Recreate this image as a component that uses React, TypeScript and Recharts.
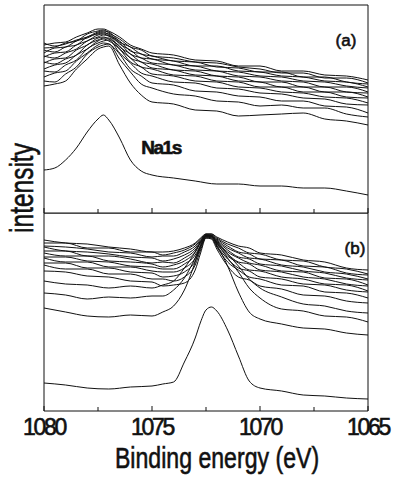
import { LineChart, Line, XAxis, YAxis } from 'recharts'

// binding energy grids (eV) for the two panels
const energyA = [1080, 1079.5, 1079, 1078.5, 1078, 1077.5, 1077.25, 1077, 1076.5, 1076, 1075.5, 1075, 1074, 1073, 1072, 1071, 1070, 1069, 1068, 1067, 1066, 1065]
const energyB = [1080, 1079, 1078, 1077, 1076, 1075, 1074.5, 1074, 1073.5, 1073, 1072.75, 1072.5, 1072.25, 1072, 1071.5, 1071, 1070.5, 1070, 1069, 1068, 1067, 1066, 1065]

// panel (a): stacked spectra, intensity in a.u.
const spectraA = [
  [168, 170, 171, 176, 180, 184, 184, 182, 176, 168, 164, 160, 158, 153, 152, 147, 147, 142, 142, 138, 137, 133],
  [165, 166, 170, 172, 179, 182, 183, 180, 174, 166, 163, 157, 155, 151, 150, 146, 144, 140, 140, 135, 135, 130],
  [170, 167, 169, 173, 176, 181, 182, 181, 171, 166, 159, 157, 152, 151, 146, 145, 141, 141, 136, 136, 131, 129],
  [160, 165, 166, 172, 175, 180, 181, 178, 172, 162, 159, 154, 152, 147, 147, 142, 141, 137, 136, 132, 131, 126],
  [163, 161, 166, 168, 176, 179, 180, 179, 169, 163, 155, 154, 148, 147, 142, 141, 137, 136, 132, 131, 127, 125],
  [156, 160, 161, 168, 172, 178, 179, 177, 170, 159, 155, 150, 148, 143, 142, 137, 136, 132, 131, 126, 126, 121],
  [157, 155, 160, 164, 172, 176, 178, 177, 166, 159, 151, 149, 143, 142, 137, 136, 131, 131, 126, 126, 121, 120],
  [150, 154, 155, 163, 168, 175, 176, 174, 167, 155, 151, 145, 143, 138, 137, 132, 131, 126, 126, 121, 121, 116],
  [151, 149, 154, 158, 168, 173, 175, 175, 164, 155, 146, 144, 138, 137, 132, 131, 126, 126, 121, 121, 116, 115],
  [144, 148, 150, 158, 164, 172, 174, 172, 164, 151, 146, 139, 137, 132, 131, 126, 125, 121, 120, 116, 115, 110],
  [142, 141, 148, 153, 164, 170, 172, 173, 160, 150, 140, 137, 131, 130, 125, 124, 120, 119, 115, 114, 109, 108],
  [136, 140, 142, 152, 160, 168, 170, 169, 159, 144, 137, 130, 128, 122, 121, 117, 116, 112, 112, 107, 106, 100],
  [132, 131, 139, 146, 159, 166, 168, 169, 154, 141, 129, 125, 119, 117, 112, 111, 107, 108, 105, 105, 99, 96],
  [127, 129, 132, 144, 154, 164, 166, 167, 148, 130, 118, 111, 109, 103, 102, 97, 98, 99, 100, 94, 92, 88],
]
const naA = [43, 45, 53, 65, 81, 94, 98, 93, 75, 53, 42, 38, 35, 32, 29, 29, 27, 27, 25, 25, 22, 18]

// panel (b)
const spectraB = [
  [171, 168, 167, 164, 162, 159, 159, 160, 163, 168, 173, 177, 177, 174, 169, 165, 163, 158, 156, 151, 149, 143, 141],
  [168, 168, 163, 163, 159, 159, 156, 158, 161, 167, 172, 177, 177, 173, 167, 163, 158, 157, 151, 150, 144, 142, 137],
  [165, 164, 162, 159, 158, 154, 155, 155, 159, 165, 171, 176, 176, 172, 165, 159, 157, 152, 151, 145, 144, 138, 136],
  [164, 160, 159, 157, 154, 153, 150, 152, 156, 163, 170, 176, 176, 171, 163, 158, 153, 152, 146, 144, 139, 137, 132],
  [160, 160, 155, 155, 152, 148, 149, 148, 153, 161, 169, 176, 175, 170, 161, 154, 152, 147, 145, 140, 138, 133, 131],
  [158, 155, 155, 150, 149, 147, 144, 146, 150, 159, 168, 175, 175, 169, 159, 153, 148, 146, 140, 139, 133, 132, 126],
  [154, 154, 150, 149, 145, 144, 142, 142, 147, 156, 166, 175, 174, 168, 157, 149, 147, 141, 139, 134, 132, 127, 125],
  [153, 149, 149, 144, 144, 140, 139, 139, 143, 153, 165, 174, 174, 167, 155, 148, 141, 140, 134, 132, 127, 126, 120],
  [148, 148, 143, 143, 139, 138, 134, 135, 139, 150, 163, 174, 173, 165, 152, 143, 140, 134, 132, 127, 126, 121, 119],
  [146, 142, 142, 137, 137, 132, 132, 130, 134, 146, 161, 173, 173, 164, 149, 141, 134, 132, 126, 125, 119, 118, 113],
  [140, 139, 135, 134, 130, 129, 125, 126, 128, 141, 158, 173, 172, 162, 145, 134, 131, 125, 122, 116, 115, 110, 108],
  [130, 127, 126, 123, 125, 123, 126, 130, 143, 159, 169, 176, 175, 169, 157, 145, 132, 123, 114, 107, 105, 100, 98],
  [118, 116, 112, 114, 113, 115, 115, 121, 133, 153, 165, 175, 175, 168, 153, 139, 123, 113, 102, 100, 95, 94, 89],
  [103, 99, 95, 94, 96, 95, 99, 105, 121, 149, 165, 175, 175, 166, 145, 119, 99, 92, 87, 83, 82, 78, 76],
]
const naB = [28, 26, 23, 22, 24, 25, 27, 29, 49, 73, 89, 101, 104, 100, 81, 55, 30, 23, 20, 16, 15, 13, 12]

const tickEnergies = [1080, 1077.5, 1075, 1072.5, 1070, 1067.5, 1065]

const buildRows = (energies: number[], spectra: number[][], base: number[]) =>
  energies.map((e, i) => {
    const row: Record<string, number> = { e }
    spectra.forEach((s, k) => {
      row['s' + k] = s[i]
    })
    row.base = base[i]
    return row
  })

const rowsA = buildRows(energyA, spectraA, naA)
const rowsB = buildRows(energyB, spectraB, naB)

const ink = '#111'
const font = '"Liberation Sans", Arial, sans-serif'

const makeTick = (withLabel: boolean) => (props: any) => {
  const { x, y, payload } = props
  const major = payload.value % 5 === 0
  return (
    <g>
      <line x1={x} x2={x} y1={y} y2={y - (major ? 5 : 4)} stroke={ink} />
      {withLabel && major && (
        <text
          x={x}
          y={y + 24}
          textAnchor='middle'
          fontSize={23}
          fontFamily={font}
          letterSpacing={-2.3}
          fill={ink}
          stroke={ink}
          strokeWidth={0.6}
        >
          {payload.value}
        </text>
      )}
    </g>
  )
}

const Panel = ({ rows, count, top, height, margin, yMax, labels }: any) => (
  <div style={{ position: 'absolute', left: 0, top }}>
    <LineChart width={395} height={height} data={rows} margin={margin}>
      <XAxis
        dataKey='e'
        type='number'
        domain={[1065, 1080]}
        reversed
        ticks={tickEnergies}
        interval={0}
        height={1}
        tickSize={0}
        tickMargin={0}
        tickLine={false}
        axisLine={{ stroke: ink }}
        tick={makeTick(labels)}
      />
      <XAxis
        xAxisId='t'
        dataKey='e'
        type='number'
        domain={[1065, 1080]}
        reversed
        orientation='top'
        height={1}
        tick={false}
        tickLine={false}
        axisLine={{ stroke: ink }}
      />
      <YAxis domain={[0, yMax]} width={1} tick={false} tickLine={false} axisLine={{ stroke: ink }} />
      <YAxis yAxisId='r' orientation='right' domain={[0, yMax]} width={1} tick={false} tickLine={false} axisLine={{ stroke: ink }} />
      {Array.from({ length: count }, (_, k) => (
        <Line key={k} dataKey={'s' + k} type='monotone' stroke={ink} strokeWidth={1} dot={false} isAnimationActive={false} />
      ))}
      <Line dataKey='base' type='monotone' stroke={ink} strokeWidth={1} dot={false} isAnimationActive={false} />
    </LineChart>
  </div>
)

const centered = (left: number, top: number, extra: React.CSSProperties): React.CSSProperties => ({
  position: 'absolute',
  left,
  top,
  lineHeight: 1,
  whiteSpace: 'nowrap',
  fontFamily: font,
  color: ink,
  WebkitTextStroke: '0.6px #111',
  transform: 'translate(-50%, -50%)',
  ...extra,
})

export default function App() {
  return (
    <div style={{ position: 'absolute', left: 0, top: 0, width: 395, height: 499, background: '#fff', overflow: 'hidden' }}>
      <Panel rows={rowsA} count={spectraA.length} top={0} height={215} margin={{ top: 4, right: 26, bottom: 1, left: 43 }} yMax={208} labels={false} />
      <Panel rows={rowsB} count={spectraB.length} top={213} height={286} margin={{ top: -1, right: 26, bottom: 87, left: 43 }} yMax={198} labels={true} />

      <div style={centered(346, 40, { fontSize: 17 })}>(a)</div>
      <div style={centered(355, 248, { fontSize: 17 })}>(b)</div>
      <div style={centered(161, 147, { fontSize: 19, fontWeight: 'bold', letterSpacing: -1.5 })}>Na1s</div>

      <div style={centered(21, 188, { fontSize: 34, transform: 'translate(-50%, -50%) rotate(-90deg) scaleX(0.72)' })}>intensity</div>
      <div style={centered(217, 458, { fontSize: 30, transform: 'translate(-50%, -50%) scaleX(0.77)' })}>Binding energy (eV)</div>
    </div>
  )
}
